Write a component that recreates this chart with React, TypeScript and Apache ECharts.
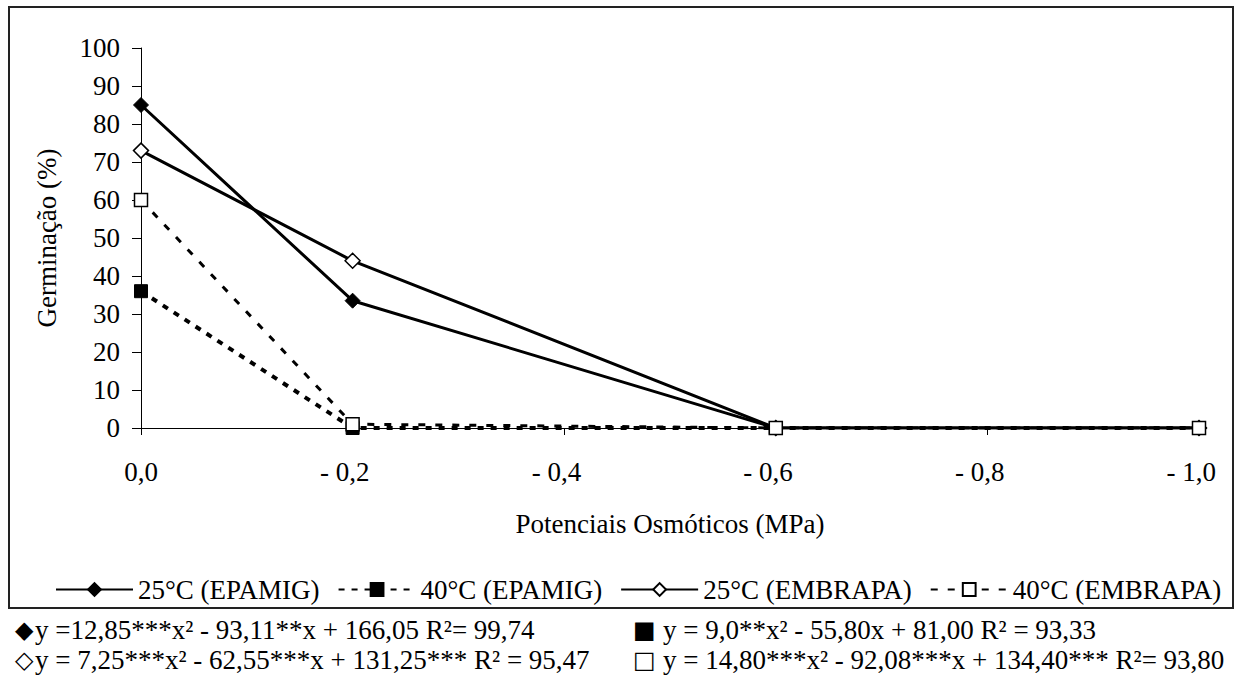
import React, { useEffect, useRef } from "react";
import * as echarts from "echarts";

const categories = ["0,0", "- 0,2", "- 0,4", "- 0,6", "- 0,8", "- 1,0"];
const epamig25 = [85, 33.5, null, 0, null, 0];
const epamig40 = [36, 0, null, 0, null, 0];
const embrapa25 = [73, 44, null, 0, null, 0];
const embrapa40 = [60, 1, null, 0, null, 0];
const seriesNames = ["25°C (EPAMIG)", "40°C (EPAMIG)", "25°C (EMBRAPA)", "40°C (EMBRAPA)"];
const yTitle = "Germinação (%)";
const xTitle = "Potenciais Osmóticos (MPa)";
const eqSymbols = ["◆", "◇", "■", "□"];
const equations = [
  "y =12,85***x² - 93,11**x + 166,05 R²= 99,74",
  "y = 7,25***x² - 62,55***x + 131,25*** R² = 95,47",
  "y = 9,0**x² - 55,80x + 81,00 R² = 93,33",
  "y = 14,80***x² - 92,08***x + 134,40*** R²= 93,80",
];

const FONT = "Liberation Serif";

export default function App() {
  const ref = useRef<HTMLDivElement>(null);
  useEffect(() => {
    if (!ref.current) return;
    const chart = echarts.init(ref.current, null, { renderer: "svg" });
    const eqPos = [
      { sx: 15, tx: 35, y: 630 },
      { sx: 15, tx: 35, y: 660 },
      { sx: 633, tx: 663, y: 630 },
      { sx: 633, tx: 663, y: 660 },
    ];
    const graphics: any[] = [
      {
        type: "rect",
        shape: { x: 9, y: 7, width: 1224, height: 601 },
        style: { fill: "none", stroke: "#222", lineWidth: 2 },
        silent: true,
      },
    ];
    equations.forEach((eq, i) => {
      const p = eqPos[i];
      graphics.push({
        type: "text",
        x: p.sx,
        y: p.y,
        style: {
          text: eqSymbols[i],
          fontSize: 24,
          fontFamily: "DejaVu Sans",
          fill: "#000",
          textVerticalAlign: "middle",
        },
      });
      graphics.push({
        type: "text",
        x: p.tx,
        y: p.y,
        style: {
          text: eq,
          fontSize: 27,
          fontFamily: FONT,
          fill: "#000",
          textVerticalAlign: "middle",
        },
      });
    });

    const mk = (name: string, data: any[], symbol: string, size: number, filled: boolean, dashed: number[] | null, width: number) => ({
      name,
      type: "line",
      data,
      connectNulls: true,
      symbol,
      symbolSize: size,
      showAllSymbol: true,
      itemStyle: filled
        ? { color: "#000", borderColor: "#000", borderWidth: 1 }
        : { color: "#fff", borderColor: "#000", borderWidth: 1.5 },
      lineStyle: { color: "#000", width, type: dashed ? dashed : "solid" },
      emphasis: { disabled: true },
    });

    chart.setOption({
      animation: false,
      backgroundColor: "#fff",
      textStyle: { fontFamily: FONT, color: "#000" },
      grid: { left: 141, right: 40, top: 48, bottom: 252, containLabel: false },
      legend: {
        left: 50,
        top: 571,
        itemWidth: 77,
        itemHeight: 16,
        itemGap: 18,
        textStyle: { fontSize: 27, color: "#000", fontFamily: FONT },
        data: seriesNames,
      },
      xAxis: {
        type: "category",
        data: categories,
        boundaryGap: false,
        name: xTitle,
        nameLocation: "middle",
        nameGap: 82,
        nameTextStyle: { fontSize: 27, color: "#000", fontFamily: FONT },
        axisLine: { lineStyle: { color: "#000", width: 1 } },
        axisTick: { show: true, inside: false, length: 7, lineStyle: { color: "#000" }, alignWithLabel: true },
        axisLabel: {
          fontSize: 27,
          color: "#000",
          fontFamily: FONT,
          margin: 30,
          align: "right",
          padding: [0, -17, 0, 0],
          interval: 0,
        },
        splitLine: { show: false },
      },
      yAxis: {
        type: "value",
        min: 0,
        max: 100,
        interval: 10,
        name: yTitle,
        nameLocation: "middle",
        nameGap: 81,
        nameRotate: 90,
        nameTextStyle: { fontSize: 27, color: "#000", fontFamily: FONT },
        axisLine: { show: true, lineStyle: { color: "#000", width: 1 } },
        axisTick: { show: true, length: 9, lineStyle: { color: "#000" } },
        axisLabel: { fontSize: 27, color: "#000", fontFamily: FONT, margin: 21 },
        splitLine: { show: false },
      },
      series: [
        mk(seriesNames[0], epamig25, "diamond", 15, true, null, 3),
        mk(seriesNames[1], epamig40, "rect", 13, true, [6, 7], 4),
        mk(seriesNames[2], embrapa25, "diamond", 15, false, null, 3),
        mk(seriesNames[3], embrapa40, "rect", 13, false, [7, 10], 3),
      ],
      graphic: graphics,
    });
    return () => chart.dispose();
  }, []);
  return (
    <div
      ref={ref}
      style={{ position: "absolute", left: 0, top: 0, width: 1239, height: 680, background: "#fff" }}
    />
  );
}
